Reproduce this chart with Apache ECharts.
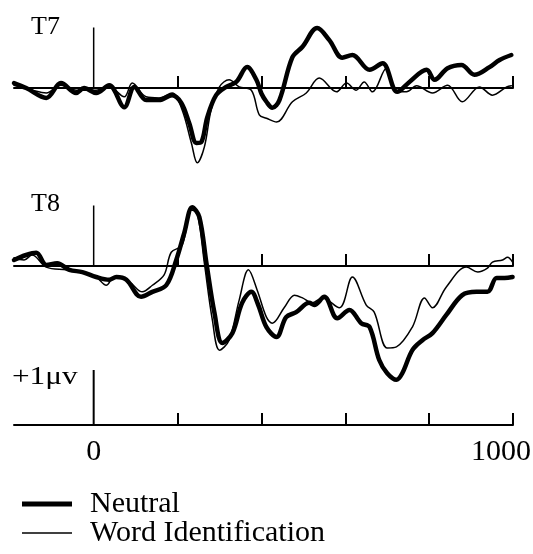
<!DOCTYPE html>
<html><head><meta charset="utf-8">
<script src="https://cdn.jsdelivr.net/npm/echarts@6/dist/echarts.min.js"></script>
<style>html,body{margin:0;padding:0;background:#fff}#c{width:533px;height:554px}</style>
</head><body><div id="c"></div>
<script>
// time (ms), amplitude (μV, up = positive as drawn)
const t7Neutral = [[-190,0.09],[-161,0],[-113,-0.18],[-78,0.09],[-42,-0.09],[-23,0],[6,-0.09],[37,0.05],[73,-0.35],[97,0.02],[125,-0.22],[156,-0.22],[187,-0.13],[209,-0.27],[228,-0.64],[245,-1.0],[257,-0.98],[271,-0.53],[292,-0.13],[316,0.02],[340,0.11],[366,0.38],[388,0.15],[400,-0.1],[412,-0.25],[426,-0.36],[443,-0.22],[474,0.56],[498,0.75],[533,1.09],[562,0.87],[593,0.55],[617,0.6],[658,0.33],[689,0.45],[724,-0.07],[753,0.11],[794,0.33],[813,0.15],[844,0.36],[877,0.42],[908,0.24],[944,0.38],[968,0.51],[996,0.6]];
const t7Word = [[-190,0.05],[-147,-0.04],[-113,-0.09],[-78,0.05],[-42,-0.04],[6,-0.04],[37,0.02],[73,-0.16],[92,0.09],[125,-0.16],[156,-0.18],[187,-0.09],[211,-0.4],[233,-1.0],[247,-1.36],[264,-1.07],[280,-0.4],[300,0.02],[323,0.15],[347,0.02],[376,-0.04],[395,-0.49],[412,-0.55],[436,-0.62],[474,-0.25],[507,-0.09],[538,0.18],[579,-0.07],[603,0.09],[626,-0.04],[645,0.11],[665,-0.07],[698,0.36],[722,-0.07],[746,-0.07],[770,0.04],[808,-0.09],[844,0.05],[879,-0.25],[920,0.02],[951,-0.13],[985,0.02],[996,0.04]];
const t8Neutral = [[-190,0.11],[-161,0.2],[-137,0.24],[-113,0.02],[-87,0.05],[-58,-0.07],[-27,-0.11],[6,-0.2],[37,-0.25],[54,-0.2],[78,-0.25],[113,-0.56],[140,-0.47],[173,-0.35],[197,0.11],[216,0.6],[235,1.07],[252,0.89],[269,0.05],[288,-0.85],[307,-1.4],[331,-1.22],[354,-0.67],[376,-0.47],[392,-0.7],[412,-1.11],[436,-1.29],[459,-0.93],[483,-0.84],[514,-0.67],[526,-0.71],[550,-0.56],[581,-0.95],[610,-0.8],[638,-1.04],[658,-1.11],[681,-1.71],[700,-1.95],[722,-2.07],[736,-1.95],[760,-1.53],[784,-1.35],[808,-1.22],[841,-0.89],[879,-0.53],[913,-0.47],[939,-0.47],[961,-0.22],[980,-0.22],[999,-0.2]];
const t8Word = [[-190,0.15],[-166,0.11],[-147,0.2],[-113,-0.02],[-66,-0.07],[-27,-0.11],[6,-0.2],[30,-0.35],[49,-0.2],[85,-0.29],[116,-0.47],[140,-0.35],[168,-0.16],[185,0.25],[211,0.38],[233,1.02],[247,0.96],[264,0.05],[283,-0.98],[300,-1.53],[323,-1.35],[347,-0.62],[369,-0.07],[390,-0.44],[412,-0.93],[426,-1.04],[455,-0.75],[479,-0.53],[498,-0.58],[521,-0.67],[545,-0.58],[586,-0.76],[617,-0.2],[650,-0.71],[669,-0.84],[700,-1.49],[722,-1.47],[760,-1.11],[789,-0.58],[808,-0.76],[841,-0.38],[889,-0.02],[916,-0.11],[939,-0.04],[951,0.07],[975,0.11],[987,0.16],[999,0.07]];

const panelNames = ['T7', 'T8'];
const legendNames = ['Neutral', 'Word Identification'];
const tickValues = [200, 400, 600, 800, 1000];
const labelValues = [0, 1000];
const zeroBarHeight = 1.1;   // μV, vertical marker at stimulus onset in panels
const scaleBarValue = 1;     // μV calibration bar
const scaleLabel = '+1μv';
const timeRange = [-190, 1000];

const FONT = "'Liberation Serif', 'Times New Roman', serif";
const chart = echarts.init(document.getElementById('c'), null, {renderer: 'canvas'});

const grids = [
  {left: 14, width: 499, top: 5.5, height: 192.5},
  {left: 14, width: 499, top: 183.5, height: 220},
  {left: 14, width: 499, top: 370, height: 55}
].map(g => Object.assign({outerBoundsMode: 'none', containLabel: false}, g));

const yRanges = [[-2, 1.5], [-2.5, 1.5], [0, 1]];

const xAxes = grids.map((g, i) => ({
  gridIndex: i, type: 'value', min: timeRange[0], max: timeRange[1],
  axisLine: {show: true, onZero: true, lineStyle: {color: '#000', width: 2}},
  axisTick: {show: true, inside: true, length: 12, customValues: tickValues, lineStyle: {color: '#000', width: 2}},
  axisLabel: {
    show: i === 2, customValues: labelValues, margin: 12,
    fontFamily: FONT, fontSize: 30, color: '#000',
    formatter: v => v === labelValues[1] ? '{r|' + v + '}' : '{n|' + v + '}',
    rich: {
      r: {fontFamily: FONT, fontSize: 30, color: '#000', padding: [0, 24, 0, 0]},
      n: {fontFamily: FONT, fontSize: 30, color: '#000'}
    }
  },
  splitLine: {show: false}
}));
const yAxes = yRanges.map((r, i) => ({
  gridIndex: i, type: 'value', min: r[0], max: r[1], show: false,
  splitLine: {show: false}
}));

function lineSeries(name, data, gi, width) {
  return {
    name, type: 'line', data, xAxisIndex: gi, yAxisIndex: gi,
    symbol: 'none', smooth: 0.35, color: '#000',
    lineStyle: {color: '#000', width: width, join: 'round', cap: 'round'},
    silent: true, animation: false
  };
}
const panelData = [[t7Neutral, t7Word], [t8Neutral, t8Word]];
const series = [];
panelData.forEach((pair, gi) => {
  series.push(lineSeries(legendNames[1], pair[1], gi, 1.5));
  series.push(lineSeries(legendNames[0], pair[0], gi, 4.5));
  series.push({type: 'line', data: [[0, 0], [0, zeroBarHeight]], xAxisIndex: gi, yAxisIndex: gi,
    symbol: 'none', lineStyle: {color: '#000', width: 1.5}, silent: true, animation: false});
});
series.push({type: 'line', data: [[0, 0], [0, scaleBarValue]], xAxisIndex: 2, yAxisIndex: 2,
  symbol: 'none', lineStyle: {color: '#000', width: 2}, silent: true, animation: false});

const titleStyle = {fontFamily: FONT, fontSize: 26, fontWeight: 'normal', color: '#000'};
chart.setOption({
  backgroundColor: '#fff',
  animation: false,
  title: [
    {text: panelNames[0], left: 31, top: 14, padding: 0, textStyle: titleStyle},
    {text: panelNames[1], left: 31, top: 191, padding: 0, textStyle: titleStyle}
  ],
  graphic: [{
    type: 'text', x: 12, y: 365, scaleX: 1.25, silent: true,
    style: {text: scaleLabel, font: "25px 'Liberation Serif', serif", fill: '#000'}
  }],
  legend: {
    data: [
      {name: legendNames[0], icon: 'path://M0 0H50V5H0Z'},
      {name: legendNames[1], icon: 'path://M0 0H50V1.5H0Z'}
    ],
    orient: 'vertical', left: 22, top: 489, padding: 0,
    itemWidth: 50, itemHeight: 14, itemGap: -1,
    itemStyle: {color: '#000', borderWidth: 0},
    textStyle: {fontFamily: FONT, fontSize: 30, color: '#000', lineHeight: 30, padding: [0, 0, 0, 13]},
    selectedMode: false
  },
  grid: grids,
  xAxis: xAxes,
  yAxis: yAxes,
  series
});
</script>
</body></html>
